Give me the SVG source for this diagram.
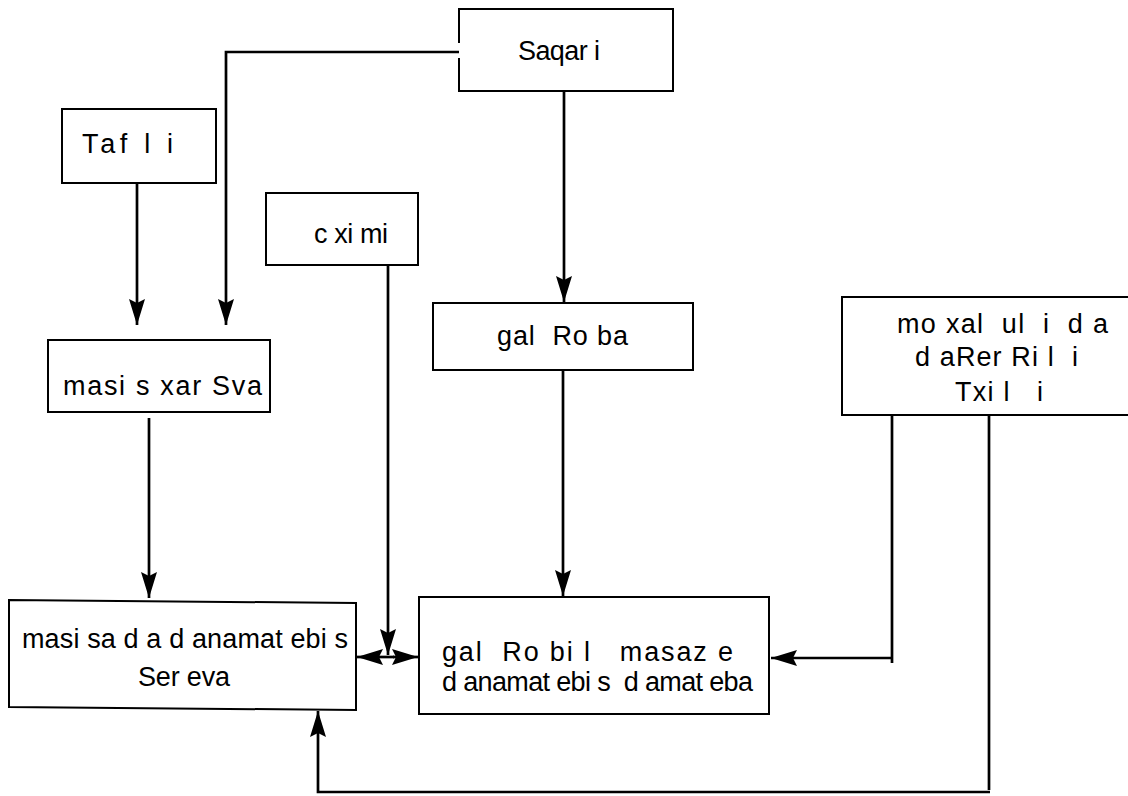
<svg xmlns="http://www.w3.org/2000/svg" width="1128" height="796" viewBox="0 0 1128 796">
  <style>
    .box { fill: #fff; stroke: #000; stroke-width: 2; }
    .lbl { font-family: "Liberation Sans", Arial, sans-serif; font-size: 27px; fill: #000; white-space: pre; }
    .wire { fill: none; stroke: #000; stroke-width: 2.7; }
  </style>
  <defs>
    <marker id="arrow" viewBox="0 0 26 16" refX="26" refY="8" markerWidth="26" markerHeight="16" markerUnits="userSpaceOnUse" orient="auto">
      <path d="M0,0 L26,8 L0,16 L4,8 Z" fill="#000"/>
    </marker>
  </defs>

  <rect width="1128" height="796" fill="#fff"/>

  <!-- nodes -->
  <g id="saqari">
    <path class="box" d="M459,43 V9 H673 V91 H459 V58" fill="none"/>
    <text class="lbl" x="518" y="60" textLength="82" lengthAdjust="spacing">Saqar i</text>
  </g>
  <g id="tafli">
    <rect class="box" x="62" y="109" width="154" height="74"/>
    <text class="lbl" x="82" y="153" textLength="91" lengthAdjust="spacing">Taf l i</text>
  </g>
  <g id="cximi">
    <rect class="box" x="266" y="193" width="152" height="72"/>
    <text class="lbl" x="314" y="243" textLength="74" lengthAdjust="spacing">c xi mi</text>
  </g>
  <g id="masis-xarSva">
    <rect class="box" x="48" y="340" width="222" height="72"/>
    <text class="lbl" x="63" y="395" textLength="199" lengthAdjust="spacing">masi s xar Sva</text>
  </g>
  <g id="galRoba">
    <rect class="box" x="433" y="303" width="260" height="67"/>
    <text class="lbl" x="497" y="345" textLength="131" lengthAdjust="spacing">gal  Ro ba</text>
  </g>
  <g id="moxaluli">
    <rect class="box" x="842" y="297" width="300" height="118"/>
    <text class="lbl" x="897" y="333" textLength="211" lengthAdjust="spacing">mo xal  ul  i  d a</text>
    <text class="lbl" x="915" y="366" textLength="163" lengthAdjust="spacing">d aRer Ri l  i</text>
    <text class="lbl" x="955" y="401" textLength="88" lengthAdjust="spacing">Txi l   i</text>
  </g>
  <g id="masisa-Sereva">
    <polygon class="box" points="9,600 356,603 356,710 9,707"/>
    <text class="lbl" x="22" y="648" textLength="326" lengthAdjust="spacing">masi sa d a d anamat ebi s</text>
    <text class="lbl" x="138" y="686" textLength="92" lengthAdjust="spacing">Ser eva</text>
  </g>
  <g id="galRobil-damateba">
    <rect class="box" x="419" y="597" width="350" height="117"/>
    <text class="lbl" x="442" y="661" textLength="291" lengthAdjust="spacing">gal  Ro bi l   masaz e</text>
    <text class="lbl" x="442" y="691" textLength="311" lengthAdjust="spacing">d anamat ebi s  d amat eba</text>
  </g>

  <!-- connectors -->
  <g id="connectors">
    <path class="wire" d="M459,52 H226 V325" marker-end="url(#arrow)"/>
    <path class="wire" d="M137,183 V325" marker-end="url(#arrow)"/>
    <path class="wire" d="M564,91 V302" marker-end="url(#arrow)"/>
    <path class="wire" d="M388,265 V655" marker-end="url(#arrow)"/>
    <path class="wire" d="M149,418 V598" marker-end="url(#arrow)"/>
    <path class="wire" d="M563,370 V596" marker-end="url(#arrow)"/>
    <path class="wire" d="M382,657 H357" marker-end="url(#arrow)"/>
    <path class="wire" d="M382,657 H394"/>
    <path class="wire" d="M393,657 H418" marker-end="url(#arrow)"/>
    <path class="wire" d="M892,415 V663 M892,658 H771" marker-end="url(#arrow)"/>
    <path class="wire" d="M989,415 V790 M990,792 H318 V711" marker-end="url(#arrow)"/>
  </g>
</svg>
